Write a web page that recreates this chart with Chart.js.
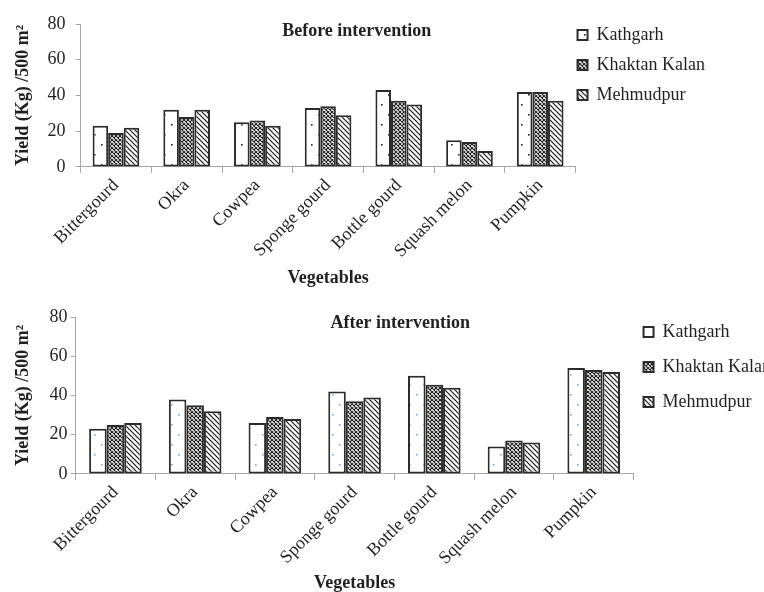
<!DOCTYPE html>
<html>
<head>
<meta charset="utf-8">
<script src="https://cdn.jsdelivr.net/npm/chart.js@4.4.1/dist/chart.umd.min.js"></script>
<style>
html, body { margin: 0; padding: 0; background: #fff; }
#obal { position: relative; width: 764px; height: 592px; overflow: hidden; }
.panel { position: absolute; left: 0; width: 764px; }
#panelPred { top: 0; height: 300px; }
#panelPo { top: 300px; height: 292px; }
</style>
</head>
<body>
<div id="obal">
  <div class="panel" id="panelPred"><canvas id="grafPred"></canvas></div>
  <div class="panel" id="panelPo"><canvas id="grafPo"></canvas></div>
</div>
<script>
const vegetables = ["Bittergourd", "Okra", "Cowpea", "Sponge gourd", "Bottle gourd", "Squash melon", "Pumpkin"];
const villages = ["Kathgarh", "Khaktan Kalan", "Mehmudpur"];
const yTicks = [0, 20, 40, 60, 80];

// Before intervention
const beforeKathgarh = [23, 32, 25, 33, 43, 15, 42];
const beforeKhaktan = [19, 28, 26, 34, 37, 14, 42];
const beforeMehmudpur = [22, 32, 23, 29, 35, 9, 37];

// After intervention
const afterKathgarh = [23, 38, 26, 42, 50, 14, 54];
const afterKhaktan = [25, 35, 29, 37, 45.5, 17, 53];
const afterMehmudpur = [26, 32, 28, 39, 44, 16, 52];

const pismo = '"Liberation Serif", "Times New Roman", serif';
const barvaTextu = "#231f20";
const barvaOs = "#a6a6a6";

function vzorTecky(barva) {
    const c = document.createElement("canvas");
    c.width = 14; c.height = 20;
    const g = c.getContext("2d");
    g.fillStyle = "#fff";
    g.fillRect(0, 0, 14, 20);
    g.fillStyle = barva;
    g.fillRect(3, 4, 1.6, 1.6);
    g.fillRect(10, 14, 1.6, 1.6);
    return g.createPattern(c, "repeat");
}

function vzorMrizka() {
    const c = document.createElement("canvas");
    c.width = 4; c.height = 4;
    const g = c.getContext("2d");
    g.fillStyle = "#fff";
    g.fillRect(0, 0, 4, 4);
    g.strokeStyle = "#1a1a1a";
    g.lineWidth = 1.1;
    g.beginPath();
    g.moveTo(0, 0); g.lineTo(4, 4);
    g.moveTo(4, 0); g.lineTo(0, 4);
    g.stroke();
    return g.createPattern(c, "repeat");
}

function vzorSikmo() {
    const c = document.createElement("canvas");
    c.width = 5; c.height = 5;
    const g = c.getContext("2d");
    g.fillStyle = "#fff";
    g.fillRect(0, 0, 5, 5);
    g.strokeStyle = "#1a1a1a";
    g.lineWidth = 1.2;
    g.beginPath();
    g.moveTo(-1, -1); g.lineTo(6, 6);
    g.moveTo(-1, 4); g.lineTo(1, 6);
    g.moveTo(4, -1); g.lineTo(6, 1);
    g.stroke();
    return g.createPattern(c, "repeat");
}

// nadpis vykresleny uvnitr plochy grafu
const nadpisUvnitr = {
    id: "nadpisUvnitr",
    afterDraw(chart, args, opts) {
        const ctx = chart.ctx;
        const a = chart.chartArea;
        ctx.save();
        ctx.font = "bold 18px " + pismo;
        ctx.fillStyle = barvaTextu;
        ctx.textAlign = "center";
        ctx.textBaseline = "middle";
        ctx.fillText(opts.text, a.left + opts.posX * (a.right - a.left), a.top + opts.posY);
        ctx.restore();
    }
};

// posun legendy blize k plose grafu
const posunLegendy = {
    id: "posunLegendy",
    afterLayout(chart, args, opts) {
        const l = chart.legend;
        if (!l) return;
        l.left += opts.dx; l.right += opts.dx;
        l.top += opts.dy; l.bottom += opts.dy;
    }
};

function vytvorGraf(id, hodnoty, nastaveni) {
    const datasets = [
        { label: villages[0], data: hodnoty[0], backgroundColor: vzorTecky(nastaveni.barvaTecek) },
        { label: villages[1], data: hodnoty[1], backgroundColor: vzorMrizka() },
        { label: villages[2], data: hodnoty[2], backgroundColor: vzorSikmo() }
    ].map(d => Object.assign(d, {
        borderColor: "#2b2b2b",
        borderWidth: 2,
        borderSkipped: false,
        categoryPercentage: 0.66,
        barPercentage: 1.0
    }));

    return new Chart(document.getElementById(id).getContext("2d"), {
        type: "bar",
        data: { labels: vegetables, datasets: datasets },
        plugins: [nadpisUvnitr, posunLegendy],
        options: {
            responsive: true,
            maintainAspectRatio: false,
            animation: false,
            layout: { padding: nastaveni.padding },
            plugins: {
                tooltip: { enabled: false },
                nadpisUvnitr: { text: nastaveni.nadpis, posX: nastaveni.nadpisX, posY: nastaveni.nadpisY },
                posunLegendy: { dx: nastaveni.legendaDx, dy: nastaveni.legendaDy },
                legend: {
                    position: "right",
                    align: "start",
                    labels: {
                        boxWidth: 10,
                        boxHeight: 10,
                        padding: nastaveni.legendaMezera,
                        color: barvaTextu,
                        font: { family: pismo, size: 18 }
                    }
                }
            },
            scales: {
                x: {
                    grid: { offset: true, drawOnChartArea: false, drawTicks: true, tickLength: 6, color: barvaOs },
                    border: { color: barvaOs, width: 1 },
                    ticks: {
                        autoSkip: false, maxRotation: 45, minRotation: 45, padding: 2,
                        color: barvaTextu, font: { family: pismo, size: 18 }
                    },
                    title: {
                        display: true, text: "Vegetables", color: barvaTextu,
                        font: { family: pismo, size: 18, weight: "bold", lineHeight: 1 },
                        padding: nastaveni.xTitulPadding
                    }
                },
                y: {
                    min: yTicks[0],
                    max: yTicks[yTicks.length - 1],
                    afterBuildTicks: s => { s.ticks = yTicks.map(v => ({ value: v })); },
                    grid: { drawOnChartArea: false, drawTicks: true, tickLength: 5, color: barvaOs },
                    border: { color: barvaOs, width: 1 },
                    ticks: { padding: nastaveni.yTickPadding, color: barvaTextu, font: { family: pismo, size: 18 } },
                    title: {
                        display: true, text: "Yield (Kg) /500 m²", color: barvaTextu,
                        font: { family: pismo, size: 18, weight: "bold" },
                        padding: nastaveni.yTitulPadding
                    }
                }
            }
        }
    });
}

vytvorGraf("grafPred", [beforeKathgarh, beforeKhaktan, beforeMehmudpur], {
    nadpis: "Before intervention",
    nadpisX: 0.558, nadpisY: 7,
    barvaTecek: "#222",
    padding: { left: 13, right: 39, top: 24, bottom: 13 },
    legendaMezera: 12, legendaDx: -10, legendaDy: -10,
    xTitulPadding: { top: 5, bottom: 0 },
    yTickPadding: 10,
    yTitulPadding: { top: 0, bottom: 3 }
});

vytvorGraf("grafPo", [afterKathgarh, afterKhaktan, afterMehmudpur], {
    nadpis: "After intervention",
    nadpisX: 0.582, nadpisY: 6,
    barvaTecek: "#7fa9cf",
    padding: { left: 13, right: -24, top: 17, bottom: 0 },
    legendaMezera: 17, legendaDx: -7, legendaDy: -11,
    xTitulPadding: { top: 3, bottom: 0 },
    yTickPadding: 3,
    yTitulPadding: { top: 0, bottom: 12 }
});
</script>
</body>
</html>
